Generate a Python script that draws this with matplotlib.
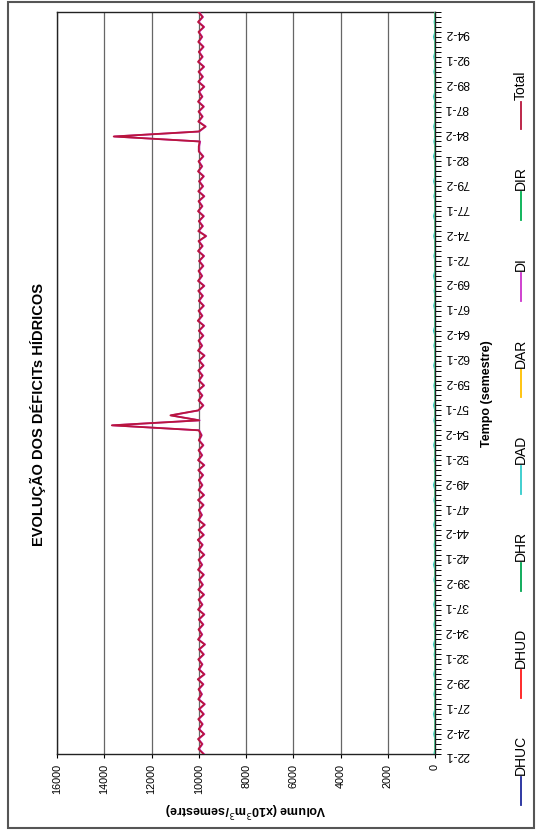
import matplotlib
matplotlib.use("Agg")
import matplotlib.pyplot as plt
from matplotlib.lines import Line2D
from matplotlib.patches import Rectangle
from matplotlib.ticker import MultipleLocator

plt.rcParams['font.family'] = ['Liberation Sans', 'DejaVu Sans']

W, H = 537, 830  # figure size in pixels

# categories: year-semester, 22-1 .. 96-2
years = list(range(22, 97))
semesters = [1, 2]
categories = [f"{y}-{s}" for y in years for s in semesters]
n_points = len(categories)

total = [
    9800, 10010, 9860, 10030, 9780, 10000, 9850, 10020, 9800, 9990,
    9760, 10020, 9880, 10010, 9820, 10040, 9770, 10000, 9860, 10020,
    9800, 9990, 9750, 10030, 9870, 10010, 9820, 10000, 9780, 10030,
    9860, 10010, 9790, 10020, 9840, 9990, 9800, 10030, 9870, 10010,
    9780, 10000, 9850, 10040, 9800, 10010, 9760, 10020, 9880, 10000,
    9810, 10030, 9790, 10010, 9860, 10000, 9830, 10020, 9780, 10030,
    9870, 10010, 9820, 10000, 9890, 10000, 13680, 9980, 11200, 10020,
    9820, 10010, 9860, 10030, 9790, 10000, 9850, 10020, 9810, 9990,
    9770, 10030, 9870, 10010, 9820, 10000, 9790, 10040, 9860, 10010,
    9800, 10000, 9840, 10020, 9780, 10030, 9870, 10010, 9820, 9990,
    9790, 10030, 9850, 10010, 9700, 10020, 9840, 10000, 9800, 10030,
    9860, 10010, 9780, 10020, 9830, 9990, 9800, 10030, 9870, 10010,
    9820, 10000, 10000, 9960, 13600, 10000, 9720, 10020, 9850, 10010,
    9800, 10030, 9860, 10000, 9780, 10020, 9840, 10010, 9790, 10030,
    9850, 10000, 9810, 10020, 9870, 10010, 9790, 10030, 9840, 10010,
]

di = [
    9780, 9990, 9840, 10010, 9760, 9980, 9830, 10000, 9780, 9970,
    9740, 10000, 9860, 9990, 9800, 10020, 9750, 9980, 9840, 10000,
    9780, 9970, 9730, 10010, 9850, 9990, 9800, 9980, 9760, 10010,
    9840, 9990, 9770, 10000, 9820, 9970, 9780, 10010, 9850, 9990,
    9760, 9980, 9830, 10020, 9780, 9990, 9740, 10000, 9860, 9980,
    9790, 10010, 9770, 9990, 9840, 9980, 9810, 10000, 9760, 10010,
    9850, 9990, 9800, 9980, 9870, 9980, 13650, 9960, 11170, 10000,
    9800, 9990, 9840, 10010, 9770, 9980, 9830, 10000, 9790, 9970,
    9750, 10010, 9850, 9990, 9800, 9980, 9770, 10020, 9840, 9990,
    9780, 9980, 9820, 10000, 9760, 10010, 9850, 9990, 9800, 9970,
    9770, 10010, 9830, 9990, 9680, 10000, 9820, 9980, 9780, 10010,
    9840, 9990, 9760, 10000, 9810, 9970, 9780, 10010, 9850, 9990,
    9800, 9980, 9980, 9940, 13570, 9980, 9700, 10000, 9830, 9990,
    9780, 10010, 9840, 9980, 9760, 10000, 9820, 9990, 9770, 10010,
    9830, 9980, 9790, 10000, 9850, 9990, 9770, 10010, 9820, 9990,
]

dad = [
    40, 0, 10, 0, 50, 0, 0, 10, 60, 0,
    0, 0, 40, 0, 10, 0, 50, 0, 0, 0,
    30, 0, 60, 0, 0, 10, 40, 0, 0, 0,
    50, 0, 10, 0, 0, 40, 0, 0, 60, 0,
    0, 10, 30, 0, 0, 0, 50, 0, 10, 0,
    0, 40, 0, 0, 60, 0, 10, 0, 0, 30,
    0, 0, 50, 0, 10, 0, 0, 40, 0, 0,
    60, 0, 0, 10, 40, 0, 0, 0, 50, 0,
    10, 0, 40, 0, 0, 60, 0, 10, 0, 0,
    50, 0, 0, 30, 0, 10, 60, 0, 0, 0,
    40, 0, 10, 0, 50, 0, 0, 0, 60, 0,
    10, 0, 40, 0, 0, 50, 0, 10, 0, 0,
    60, 0, 0, 40, 0, 10, 50, 0, 0, 0,
    30, 0, 60, 0, 10, 0, 0, 40, 0, 0,
    50, 0, 10, 0, 60, 0, 0, 30, 0, 0,
]

# series lying on the zero line
dhuc = [0] * n_points
dhud = [0] * n_points
dhr = [0] * n_points
dar = [0] * n_points
dir_ = [0] * n_points

series_names = ["DHUC", "DHUD", "DHR", "DAD", "DAR", "DI", "DIR", "Total"]
series_data = [dhuc, dhud, dhr, dad, dar, di, dir_, total]
series_colors = ["#1f2a9c", "#ff1a1a", "#00a651", "#33cccc", "#ffc000",
                 "#cc33cc", "#00b050", "#b8163c"]
series_widths = [1.0, 1.0, 1.0, 1.0, 1.0, 1.3, 1.0, 1.3]

fig = plt.figure(figsize=(W / 100, H / 100), dpi=100)
fig.patch.set_facecolor("white")

# outer border
fig.patches.append(Rectangle((8 / W, 2 / H), (534 - 8) / W, (828 - 2) / H,
                             transform=fig.transFigure, fill=False,
                             edgecolor="#555555", linewidth=1.5))

# chart is drawn rotated: volume runs right-to-left, time bottom-to-top
ax = fig.add_axes([57 / W, 1 - 754 / H, (435 - 57) / W, (754 - 12) / H])
idx = list(range(n_points))
for name, vals, col, lw in zip(series_names, series_data, series_colors, series_widths):
    ax.plot(vals, idx, color=col, lw=lw, solid_joinstyle="round", zorder=3)

ax.set_xlim(16000, 0)
ax.set_ylim(0, n_points - 1)

ax.set_xticks(range(0, 16001, 2000))
ax.set_xticklabels([str(v) for v in range(0, 16001, 2000)], rotation=90, fontsize=7.8)
ax.tick_params(axis="x", direction="out", length=3, width=0.8, pad=4)
ax.grid(axis="x", color="#666666", lw=0.9)
ax.set_axisbelow(True)

ax.yaxis.tick_right()
ax.yaxis.set_minor_locator(MultipleLocator(1))
major_pos = list(range(0, n_points, 5))
ax.set_yticks(major_pos)
ax.set_yticklabels([categories[i] for i in major_pos], rotation=180, fontsize=8.8)
ax.tick_params(axis="y", which="both", direction="out", length=4, width=0.7,
               pad=3, right=True, left=False)

for sp in ax.spines.values():
    sp.set_color("#222222")
    sp.set_linewidth(1.0)

ax.set_xlabel("Volume (x10$^3$m$^3$/semestre)", fontsize=9, fontweight="bold",
              rotation=180, labelpad=4)
fig.text(487 / W, 1 - 394 / H, "Tempo (semestre)", rotation=90, fontsize=9,
         fontweight="bold", ha="center", va="center")

fig.text(38 / W, 1 - 415 / H, "EVOLUÇÃO DOS DÉFICITs HÍDRICOS", rotation=90,
         fontsize=10.5, fontweight="bold", ha="center", va="center")

# legend, laid out bottom-to-top along the right edge
renderer = fig.canvas.get_renderer()
y_px = 805
line_len = 28
for name, col in zip(series_names, series_colors):
    fig.lines.append(Line2D([521 / W, 521 / W], [1 - y_px / H, 1 - (y_px - line_len) / H],
                            transform=fig.transFigure, color=col, lw=1.3))
    t = fig.text(521 / W, 1 - (y_px - line_len - 2) / H, name, rotation=90,
                 fontsize=10, ha="center", va="bottom")
    ext = t.get_window_extent(renderer)
    y_px = y_px - line_len - 2 - ext.height - 37

fig.savefig("out.png", dpi=100)
